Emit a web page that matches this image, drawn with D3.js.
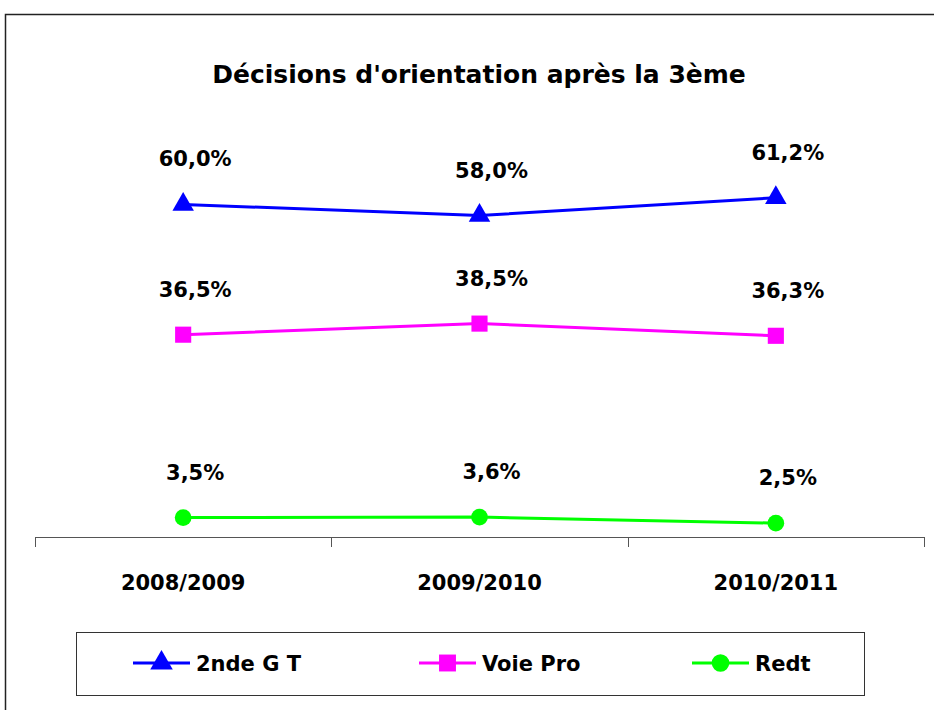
<!DOCTYPE html>
<html>
  <head>
    <meta charset="UTF-8">
    <title>orientation</title>
    <style>
      body { margin: 0; background: #fff; }
      svg text {
        font-family: "Comic Sans MS", "DejaVu Sans", sans-serif;
        font-weight: bold;
        fill: #000;
      }
    </style>
    <script src="https://d3js.org/d3.v7.min.js"></script>
  </head>
  <body>
    <div class="graph1"></div>
    <script>
      var years = ["2008/2009", "2009/2010", "2010/2011"];
      var seriesNames = ["2nde G T", "Voie Pro", "Redt"];
      var gtValues = [60.0, 58.0, 61.2];
      var proValues = [36.5, 38.5, 36.3];
      var redtValues = [3.5, 3.6, 2.5];

      var width = 934, height = 710;

      var svg = d3.select(".graph1").append("svg")
        .attr("width", width)
        .attr("height", height);

      // outer frame (clipped by the window on the right / bottom)
      svg.append("rect")
        .attr("x", 5.5).attr("y", 14.5)
        .attr("width", 1000).attr("height", 1000)
        .attr("fill", "none")
        .attr("stroke", "#222")
        .attr("stroke-width", 1.5);

      svg.append("text")
        .attr("x", 479).attr("y", 83)
        .attr("text-anchor", "middle")
        .style("font-size", "25px")
        .text("Décisions d'orientation après la 3ème");

      var xScale = d3.scaleBand().domain(years).range([35, 924]);
      var yScale = d3.scaleLinear().domain([0, 70]).range([537, 149]);
      var cx = function(d, i) { return xScale(years[i]) + xScale.bandwidth() / 2; };

      // x axis: baseline + ticks at category boundaries
      var axis = svg.append("g").attr("class", "x axis");
      axis.append("line")
        .attr("x1", 35).attr("x2", 924)
        .attr("y1", yScale(0) + 0.5).attr("y2", yScale(0) + 0.5)
        .attr("stroke", "#555").attr("stroke-width", 1);
      var edges = years.map(function(y) { return xScale(y); }).concat([xScale.range()[1]]);
      axis.selectAll(".tick").data(edges).enter().append("line")
        .attr("x1", function(d) { return Math.round(d) + 0.5; })
        .attr("x2", function(d) { return Math.round(d) + 0.5; })
        .attr("y1", yScale(0)).attr("y2", yScale(0) + 10)
        .attr("stroke", "#555");
      axis.selectAll(".lbl").data(years).enter().append("text")
        .attr("x", function(d) { return xScale(d) + xScale.bandwidth() / 2; })
        .attr("y", 590)
        .attr("text-anchor", "middle")
        .style("font-size", "21px")
        .text(function(d) { return d; });

      var series = [
        { name: seriesNames[0], values: gtValues, color: "#0000ff", marker: d3.symbolTriangle, size: 200 },
        { name: seriesNames[1], values: proValues, color: "#ff00ff", marker: d3.symbolSquare, size: 260 },
        { name: seriesNames[2], values: redtValues, color: "#00ff00", marker: d3.symbolCircle, size: 220 }
      ];

      var line = d3.line()
        .x(cx)
        .y(function(d) { return yScale(d); });

      var fmt = function(v) { return v.toFixed(1).replace(".", ",") + "%"; };

      series.forEach(function(s) {
        var g = svg.append("g");
        g.append("path")
          .attr("d", line(s.values))
          .attr("fill", "none")
          .attr("stroke", s.color)
          .attr("stroke-width", 3);
        g.selectAll("path.m").data(s.values).enter().append("path")
          .attr("class", "m")
          .attr("d", d3.symbol().type(s.marker).size(s.size))
          .attr("transform", function(d, i) { return "translate(" + cx(d, i) + "," + yScale(d) + ")"; })
          .attr("fill", s.color);
        g.selectAll("text").data(s.values).enter().append("text")
          .attr("x", function(d, i) { return cx(d, i) + 12; })
          .attr("y", function(d) { return yScale(d) - 38; })
          .attr("text-anchor", "middle")
          .style("font-size", "21px")
          .text(fmt);
      });

      // legend
      var legend = svg.append("g");
      legend.append("rect")
        .attr("x", 76.5).attr("y", 632.5)
        .attr("width", 788).attr("height", 63)
        .attr("fill", "none")
        .attr("stroke", "#333")
        .attr("stroke-width", 1);
      var legendX = [133, 419, 692];
      series.forEach(function(s, i) {
        var lx = legendX[i];
        legend.append("line")
          .attr("x1", lx).attr("x2", lx + 57)
          .attr("y1", 663).attr("y2", 663)
          .attr("stroke", s.color).attr("stroke-width", 3);
        legend.append("path")
          .attr("d", d3.symbol().type(s.marker).size(s.size * 1.1))
          .attr("transform", "translate(" + (lx + 28.5) + ",663)")
          .attr("fill", s.color);
        legend.append("text")
          .attr("x", lx + 63).attr("y", 671)
          .style("font-size", "21px")
          .text(s.name);
      });
    </script>
  </body>
</html>
